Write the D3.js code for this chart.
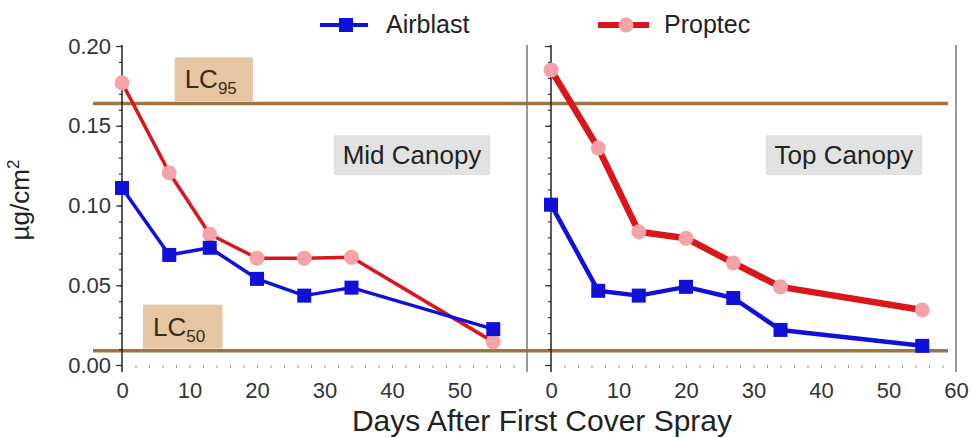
<!DOCTYPE html>
<html>
<head>
<meta charset="utf-8">
<script src="https://cdn.jsdelivr.net/npm/d3@7"></script>
<style>
  html, body { margin: 0; padding: 0; background: #fff; }
  svg text { font-family: "Liberation Sans", Arial, Helvetica, sans-serif; }
</style>
</head>
<body>
<svg id="chart" width="972" height="438"></svg>
<script>
// Sampling days after the first cover spray
const days = [0, 7, 13, 20, 27, 34, 55];

// Residue (µg/cm²) per canopy position and application method
const midAirblast = [0.111, 0.069, 0.0735, 0.054, 0.0435, 0.0485, 0.0225];
const midProptec  = [0.177, 0.1205, 0.082, 0.067, 0.067, 0.0675, 0.0145];
const topAirblast = [0.1005, 0.0465, 0.0435, 0.049, 0.042, 0.022, 0.012];
const topProptec  = [0.185, 0.136, 0.0835, 0.0795, 0.064, 0.049, 0.0345];

const panelNames = ["Mid Canopy", "Top Canopy"];
const seriesNames = ["Airblast", "Proptec"];

// Lethal concentration thresholds
const lcNames = ["95", "50"];
const lcValues = [0.164, 0.009];

const yTicks = [0, 0.05, 0.10, 0.15, 0.20];
const xTicksMid = [0, 10, 20, 30, 40, 50];
const xTicksTop = [0, 10, 20, 30, 40, 50, 60];

const svg = d3.select("#chart");

const blue = "#1010d8", red = "#d8161c", pink = "#f4a4a8";
const brown = "#9d7444", tan = "#e6c6a2", boxGray = "#e2e2e2";

const y = d3.scaleLinear().domain([0, 0.20]).range([365, 46]);
const xMid = d3.scaleLinear().domain([0, 60]).range([122, 527]);
const xTop = d3.scaleLinear().domain([0, 60]).range([551, 956]);

const panels = [
  { name: panelNames[0], x: xMid, air: midAirblast, pro: midProptec, ticks: xTicksMid, labels: true, airW: 3.5, proW: 3.5 },
  { name: panelNames[1], x: xTop, air: topAirblast, pro: topProptec, ticks: xTicksTop, labels: false, airW: 4.5, proW: 6.5 }
];

// Threshold bands across both panels
lcValues.forEach((v, i) => {
  svg.append("line")
    .attr("x1", xMid(0) - 29).attr("x2", xTop(60) - 8)
    .attr("y1", y(v)).attr("y2", y(v))
    .attr("stroke", brown).attr("stroke-width", 3.5);
});

// Panel frames and axes
panels.forEach((p, pi) => {
  const g = svg.append("g");
  const x = p.x;

  // right border of the panel
  g.append("line")
    .attr("x1", x(60)).attr("x2", x(60))
    .attr("y1", y(0.20) - 1).attr("y2", y(0) + 7)
    .attr("stroke", "#777").attr("stroke-width", 1.5);

  // y axis
  const ya = g.append("g").attr("transform", `translate(${x(0)},0)`);
  ya.call(d3.axisLeft(y).tickValues(yTicks).tickSize(6)
      .tickFormat(p.labels ? d3.format(".2f") : ""));
  ya.append("g").call(d3.axisLeft(y).tickValues(d3.range(0, 0.2001, 0.01)).tickSize(3).tickFormat(""))
    .select(".domain").remove();
  ya.selectAll(".domain").remove();
  ya.selectAll("line").attr("stroke", "#333").attr("stroke-width", 1.2);
  ya.selectAll("text").attr("font-size", 22).attr("fill", "#333")
    .attr("font-family", "Liberation Sans, Arial, sans-serif").attr("dx", -2);
  ya.append("line").attr("x1", 0).attr("x2", 0)
    .attr("y1", y(0.20) - 1).attr("y2", y(0) + 7)
    .attr("stroke", "#222").attr("stroke-width", 1.5);

  // x axis: faint minor ticks and labels, no baseline
  const xa = g.append("g").attr("transform", `translate(0,${y(0)})`);
  xa.call(d3.axisBottom(x).tickValues(d3.range(2, 59, 2)).tickSize(3).tickFormat(""));
  xa.selectAll(".domain").remove();
  xa.selectAll("line").attr("stroke", "#999").attr("stroke-width", 1);
  const xl = g.append("g").attr("transform", `translate(0,${y(0)})`);
  xl.call(d3.axisBottom(x).tickValues(p.ticks).tickSize(0).tickPadding(17).tickFormat(d3.format("d")));
  xl.selectAll(".domain").remove();
  xl.selectAll("text").attr("font-size", 22).attr("fill", "#333")
    .attr("font-family", "Liberation Sans, Arial, sans-serif");

  // panel name box
  const label = g.append("g");
  const t = label.append("text")
    .attr("x", pi === 0 ? 412 : 844).attr("y", 155)
    .attr("text-anchor", "middle").attr("dominant-baseline", "central")
    .attr("font-size", 26).attr("fill", "#222").text(p.name);
  const bb = t.node().getBBox();
  label.insert("rect", "text")
    .attr("x", bb.x - 9).attr("y", 135).attr("width", bb.width + 18).attr("height", 40)
    .attr("fill", boxGray);

  // series lines and markers
  const line = d3.line().x((d, i) => x(days[i])).y(d => y(d));
  g.append("path").datum(p.pro).attr("d", line)
    .attr("fill", "none").attr("stroke", red).attr("stroke-width", p.proW)
    .attr("stroke-linejoin", "round");
  g.append("path").datum(p.air).attr("d", line)
    .attr("fill", "none").attr("stroke", blue).attr("stroke-width", p.airW)
    .attr("stroke-linejoin", "round");
  g.selectAll("circle.pro").data(p.pro).join("circle")
    .attr("class", "pro")
    .attr("cx", (d, i) => x(days[i])).attr("cy", d => y(d)).attr("r", 7.5)
    .attr("fill", pink);
  g.selectAll("rect.air").data(p.air).join("rect")
    .attr("class", "air")
    .attr("x", (d, i) => x(days[i]) - 7).attr("y", d => y(d) - 7)
    .attr("width", 14).attr("height", 14).attr("fill", blue);
});

// Threshold labels, each sitting just above its line
const lcBoxes = [
  { name: lcNames[0], v: lcValues[0], d0: 7.8, d1: 19.4 },
  { name: lcNames[1], v: lcValues[1], d0: 3.1, d1: 14.9 }
];
lcBoxes.forEach(b => {
  const g = svg.append("g");
  g.append("rect")
    .attr("x", xMid(b.d0)).attr("y", y(b.v) - 46)
    .attr("width", xMid(b.d1) - xMid(b.d0)).attr("height", 44)
    .attr("fill", tan);
  const t = g.append("text")
    .attr("x", xMid(b.d0) + 10).attr("y", y(b.v) - 15)
    .attr("font-size", 26).attr("fill", "#3a2a1a");
  t.append("tspan").text("LC");
  t.append("tspan").attr("font-size", 17).attr("dy", 6).text(b.name);
});

// Legend
const legend = svg.append("g");
legend.append("line").attr("x1", 320).attr("x2", 368).attr("y1", 25).attr("y2", 25)
  .attr("stroke", blue).attr("stroke-width", 4);
legend.append("rect").attr("x", 339).attr("y", 18).attr("width", 14).attr("height", 14).attr("fill", blue);
legend.append("text").attr("x", 386).attr("y", 33).attr("font-size", 25).attr("fill", "#222").text(seriesNames[0]);
legend.append("line").attr("x1", 598).attr("x2", 649).attr("y1", 25).attr("y2", 25)
  .attr("stroke", red).attr("stroke-width", 6);
legend.append("circle").attr("cx", 626).attr("cy", 25).attr("r", 7.5).attr("fill", pink);
legend.append("text").attr("x", 664).attr("y", 33).attr("font-size", 25).attr("fill", "#222").text(seriesNames[1]);

// Axis titles
svg.append("text").attr("x", 542).attr("y", 431).attr("text-anchor", "middle")
  .attr("font-size", 30).attr("fill", "#222").text("Days After First Cover Spray");
const yt = svg.append("text")
  .attr("transform", "translate(29,200) rotate(-90)")
  .attr("text-anchor", "middle").attr("font-size", 26).attr("fill", "#222");
yt.append("tspan").text("µg/cm");
yt.append("tspan").attr("font-size", 17).attr("dy", -10).text("2");
</script>
</body>
</html>
